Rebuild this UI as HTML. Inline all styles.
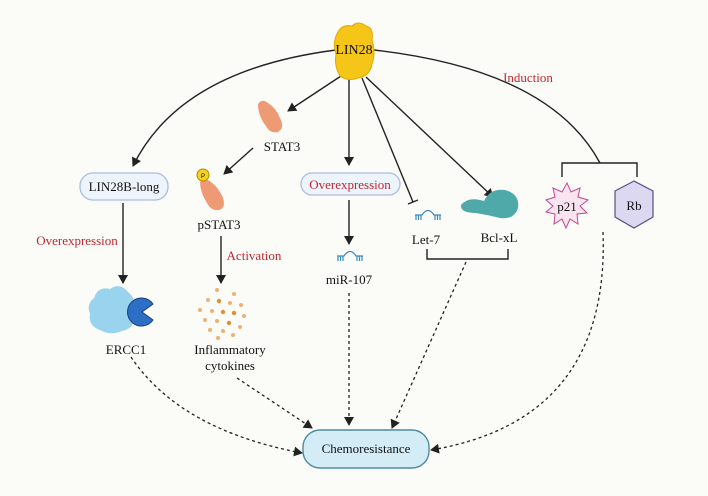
<!DOCTYPE html>
<html><head><style>
html,body{margin:0;padding:0;background:#fbfbf8;}
svg{display:block;font-family:"Liberation Serif",serif;}
</style></head><body>
<svg width="708" height="496" viewBox="0 0 708 496" xmlns="http://www.w3.org/2000/svg">
<defs>
<marker id="a" markerWidth="10" markerHeight="10" refX="8" refY="5" orient="auto" markerUnits="userSpaceOnUse"><path d="M0,0 L9,5 L0,10 z" fill="#222"/></marker>
</defs>
<rect width="708" height="496" fill="#fbfbf8"/>
<g stroke="#222" stroke-width="1.4" fill="none">
<path d="M336,50 Q180,70 133,166" marker-end="url(#a)"/>
<path d="M374,50 Q550,70 600,163"/>
<path d="M562,177 V163 H637 V177"/>
<path d="M341,76 L288,111" marker-end="url(#a)"/>
<path d="M253,148 L224,174" marker-end="url(#a)"/>
<path d="M349,78 V165" marker-end="url(#a)"/>
<path d="M362,78 L413,202"/>
<path d="M408,204 L418,200"/>
<path d="M366,77 L493,197" marker-end="url(#a)"/>
<path d="M123,203 V283" marker-end="url(#a)"/>
<path d="M221,236 V283" marker-end="url(#a)"/>
<path d="M349,200 V244" marker-end="url(#a)"/>
<path d="M427,249 V259 H508 V249"/>
</g>
<g stroke="#222" stroke-width="1.3" fill="none" stroke-dasharray="3,3">
<path d="M131,357 Q180,430 302,453" marker-end="url(#a)"/>
<path d="M237,378 L312,428" marker-end="url(#a)"/>
<path d="M349,293 V425" marker-end="url(#a)"/>
<path d="M466,262 L392,428" marker-end="url(#a)"/>
<path d="M603,232 Q610,420 431,450" marker-end="url(#a)"/>
</g>
<path d="M338,32 Q342,24 352,26 Q358,20 366,26 Q374,28 372,40 Q376,52 372,64 Q370,76 358,78 Q348,82 340,76 Q334,66 336,54 Q332,42 338,32z" fill="#f5c518" stroke="#e0a800" stroke-width="1"/>
<text x="354" y="54" font-size="14" text-anchor="middle" fill="#111">LIN28</text>
<text x="528" y="82" font-size="13" text-anchor="middle" fill="#c0282d">Induction</text>
<path d="M258,104 Q262,98 268,103 Q276,108 280,118 Q285,128 278,132 Q270,134 266,126 Q258,116 258,104z" fill="#ee9a74"/>
<text x="282" y="151" font-size="13" text-anchor="middle" fill="#111">STAT3</text>
<path d="M200,182 Q205,177 211,182 Q219,188 223,198 Q226,208 219,210 Q211,211 207,203 Q200,192 200,182z" fill="#ee9a74"/>
<circle cx="203" cy="175" r="6" fill="#f7d21c" stroke="#b08a00" stroke-width="1"/>
<text x="203" y="178" font-size="6" text-anchor="middle" font-family="Liberation Sans,sans-serif">P</text>
<text x="219" y="229" font-size="13" text-anchor="middle" fill="#111">pSTAT3</text>
<text x="254" y="260" font-size="13" text-anchor="middle" fill="#c0282d">Activation</text>
<rect x="80" y="173" width="88" height="27" rx="13" fill="#eef4fc" stroke="#a8bde0" stroke-width="1.3"/>
<text x="124" y="191" font-size="13" text-anchor="middle" fill="#111">LIN28B-long</text>
<text x="77" y="245" font-size="13" text-anchor="middle" fill="#c0282d">Overexpression</text>
<rect x="301" y="173" width="99" height="22" rx="11" fill="#eef4fc" stroke="#a8bde0" stroke-width="1.3"/>
<text x="350" y="189" font-size="13" text-anchor="middle" fill="#c0282d">Overexpression</text>
<g stroke="#3a8ac0" stroke-width="1.2" fill="none">
<path d="M337,256 H344 Q350,247 356,256 H363"/>
<path d="M338,256 V261 M340.5,256 V261 M343,256 V261 M357,256 V261 M359.5,256 V261 M362,256 V261"/>
<path d="M415,215 H422 Q428,206 434,215 H441"/>
<path d="M416,215 V220 M418.5,215 V220 M421,215 V220 M435,215 V220 M437.5,215 V220 M440,215 V220"/>
</g>
<text x="349" y="284" font-size="13" text-anchor="middle" fill="#111">miR-107</text>
<text x="426" y="244" font-size="13" text-anchor="middle" fill="#111">Let-7</text>
<path d="M461,205 Q468,196 484,201 Q490,188 505,190 Q520,194 518,208 Q514,220 500,218 Q488,215 476,213 Q460,213 461,205z" fill="#4fa9a8"/>
<text x="499" y="242" font-size="13" text-anchor="middle" fill="#111">Bcl-xL</text>
<polygon points="567,183 571,192 580,188 578,197 588,200 580,206 587,213 577,214 578,224 570,219 566,228 562,219 554,224 555,214 546,212 553,206 546,200 555,197 553,188 562,192" fill="#fbe4f0" stroke="#c04890" stroke-width="1"/>
<text x="567" y="211" font-size="13" text-anchor="middle" fill="#111">p21</text>
<polygon points="634,181 653,191 653,217 634,228 615,217 615,191" fill="#dcd8f2" stroke="#5a5080" stroke-width="1.2"/>
<text x="634" y="210" font-size="13" text-anchor="middle" fill="#111">Rb</text>
<path d="M94,298 Q98,286 110,289 Q120,282 128,292 Q138,300 134,314 Q136,328 122,331 Q110,336 100,330 Q88,326 90,314 Q86,304 94,298z" fill="#9ad3ee"/>
<path d="M153,304 A14,14 0 1 0 153,320 L142,312 Z" fill="#2c6fc4" stroke="#1a3f80" stroke-width="1"/>
<text x="126" y="354" font-size="13" text-anchor="middle" fill="#111">ERCC1</text>
<g fill="#f0b070">
<circle cx="217" cy="290" r="2"/><circle cx="234" cy="294" r="2"/><circle cx="208" cy="300" r="2"/><circle cx="219" cy="301" r="2.2" fill="#e09030"/><circle cx="230" cy="303" r="2"/><circle cx="241" cy="305" r="2"/><circle cx="200" cy="310" r="2"/><circle cx="212" cy="311" r="2"/><circle cx="223" cy="312" r="2.2" fill="#e09030"/><circle cx="234" cy="313" r="2.2" fill="#e09030"/><circle cx="244" cy="316" r="2"/><circle cx="205" cy="320" r="2"/><circle cx="217" cy="321" r="2"/><circle cx="229" cy="323" r="2.2" fill="#e09030"/><circle cx="240" cy="327" r="2"/><circle cx="210" cy="330" r="2"/><circle cx="223" cy="331" r="2"/><circle cx="218" cy="338" r="2"/><circle cx="233" cy="335" r="2"/>
</g>
<text x="230" y="354" font-size="13" text-anchor="middle" fill="#111">Inflammatory</text>
<text x="230" y="370" font-size="13" text-anchor="middle" fill="#111">cytokines</text>
<rect x="303" y="430" width="126" height="38" rx="17" fill="#d3ecf6" stroke="#4f8aa0" stroke-width="1.4"/>
<text x="366" y="453" font-size="13" text-anchor="middle" fill="#111">Chemoresistance</text>
</svg>
</body></html>
